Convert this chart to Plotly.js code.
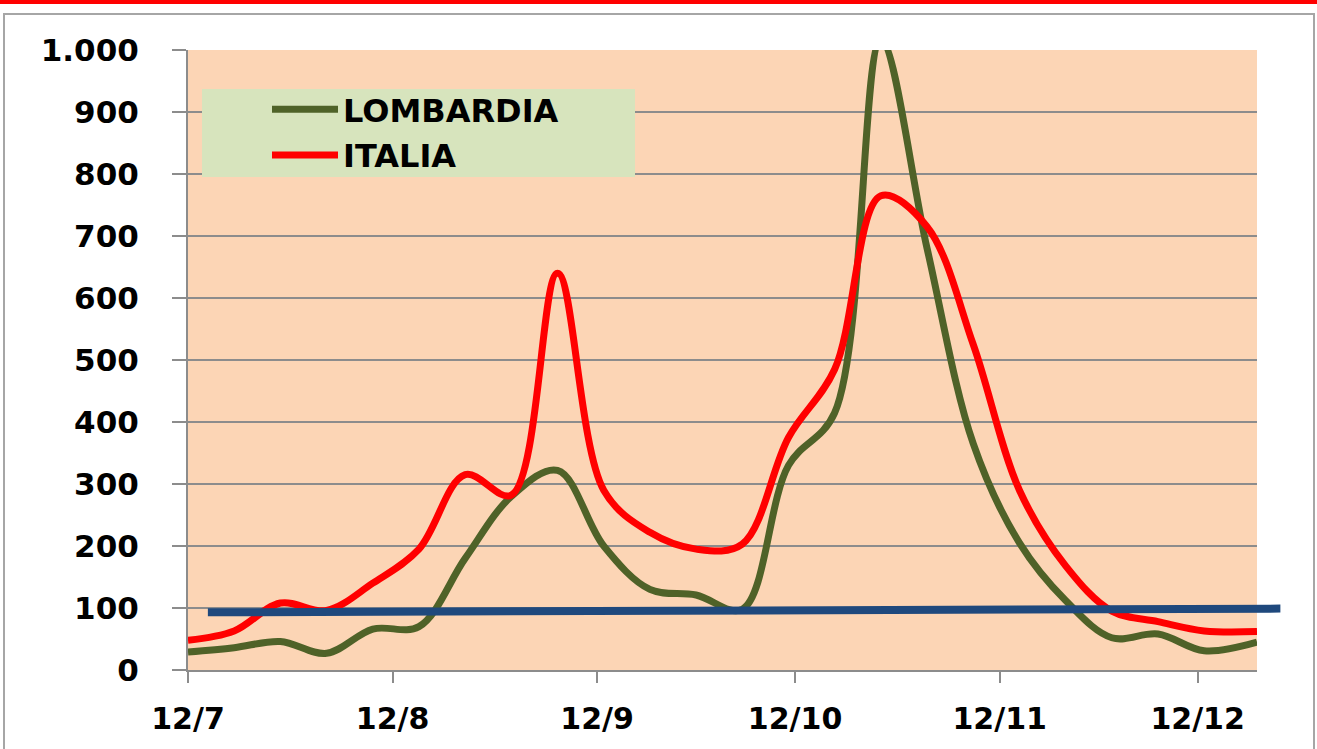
<!DOCTYPE html>
<html><head><meta charset="utf-8">
<script src="https://cdn.plot.ly/plotly-3.0.1.min.js"></script>
<style>
html,body{margin:0;padding:0;background:#fff;}
#wrap{position:relative;width:1317px;height:749px;overflow:hidden;}
#chart{position:absolute;left:0;top:0;width:1317px;height:749px;}
#redrule{position:absolute;left:0;top:0;width:1317px;height:4px;background:#ff0000;}
#frame{position:absolute;left:3px;top:13px;width:1308px;height:760px;border:2px solid #a6a6a6;pointer-events:none;}
</style></head>
<body><div id="wrap"><div id="chart"></div><div id="redrule"></div><div id="frame"></div></div>
<script>
// ---- data ----
const dates = ['2020-07-12','2020-07-19','2020-07-26','2020-08-02','2020-08-09','2020-08-16',
  '2020-08-23','2020-08-30','2020-09-06','2020-09-13','2020-09-20','2020-09-27',
  '2020-10-04','2020-10-11','2020-10-18','2020-10-25','2020-11-01','2020-11-08',
  '2020-11-15','2020-11-22','2020-11-29','2020-12-06','2020-12-13','2020-12-21'];
const lombardia = [29,36,46,27,66,70,180,280,322,200,130,121,98,330,415,1015,680,365,205,112,52,58,31,45];
const italia    = [48,63,108,96,140,195,315,282,640,290,222,195,203,375,485,765,715,525,290,168,95,78,63,62];
const seriesNames = ['LOMBARDIA','ITALIA'];
const thresholdDates = ['2020-07-15','2020-12-24'];
const thresholdValues = [93,99];
const yTickValues = [0,100,200,300,400,500,600,700,800,900,1000];
const xRange = ['2020-07-12','2020-12-21'];

// ---- styling / layout ----
const W = 1317, H = 749;
const L = 188, R = 30, T = 50, B = 79;
const plotRight = 1257;
const paperW = W - L - R, paperH = H - T - B;
const domEnd = (plotRight - L) / paperW;
const px2x = p => (p - L) / paperW;
const px2y = p => (H - B - p) / paperH;

const t0 = new Date(xRange[0] + 'T00:00:00Z').getTime();
const t1 = new Date(xRange[1] + 'T00:00:00Z').getTime();
const t2 = t0 + (t1 - t0) / domEnd;
const iso = t => new Date(t).toISOString().slice(0,10);

const FONT = 'DejaVu Sans, Verdana, sans-serif';
const GRID = '#8c8c8c';

const traces = [
  {x: dates, y: lombardia, name: seriesNames[0], type: 'scatter', mode: 'lines',
   line: {color: '#4f6228', width: 7, shape: 'spline', smoothing: 1}, legendgroup: 'a',
   xaxis: 'x', yaxis: 'y'},
  {x: dates, y: italia, name: seriesNames[1], type: 'scatter', mode: 'lines',
   line: {color: '#ff0000', width: 7, shape: 'spline', smoothing: 1}, legendgroup: 'b',
   xaxis: 'x', yaxis: 'y'},
  {x: thresholdDates, y: thresholdValues, type: 'scatter', mode: 'lines', showlegend: false,
   line: {color: '#1f497d', width: 8}, xaxis: 'x2', yaxis: 'y2', hoverinfo: 'skip'}
];

const layout = {
  width: W, height: H,
  margin: {l: L, r: R, t: T, b: B, pad: 0},
  paper_bgcolor: 'rgba(0,0,0,0)', plot_bgcolor: 'rgba(0,0,0,0)',
  separators: ',.',
  font: {family: FONT, size: 29, color: '#000', weight: 700},
  showlegend: true,
  xaxis: {type: 'date', domain: [0, domEnd], range: xRange, tick0: xRange[0], dtick: 'M1',
    tickformat: '%d/%-m', ticks: 'outside', ticklen: 11, tickwidth: 2, tickcolor: GRID,
    showline: true, linecolor: GRID, linewidth: 2, showgrid: false, zeroline: false,
    ticklabelstandoff: 10, tickfont: {family: FONT, size: 30, color: '#000', weight: 700},
    fixedrange: true},
  yaxis: {range: [0, 1000], tickvals: yTickValues, tickformat: ',d', ticks: 'outside',
    ticklen: 14, tickwidth: 2, tickcolor: GRID, showline: true, linecolor: GRID, linewidth: 2,
    showgrid: true, gridcolor: GRID, gridwidth: 2, zeroline: false, ticklabelstandoff: 27,
    tickfont: {family: FONT, size: 31, color: '#000', weight: 700}, fixedrange: true},
  xaxis2: {type: 'date', domain: [0, 1], range: [xRange[0], iso(t2)], anchor: 'y2', visible: false, fixedrange: true},
  yaxis2: {domain: [0, 1], range: [0, 1000], anchor: 'x2', visible: false, fixedrange: true},
  legend: {x: px2x(267), y: px2y(82), xanchor: 'left', yanchor: 'top', bgcolor: 'rgba(0,0,0,0)',
    borderwidth: 0, itemwidth: 66, tracegroupgap: 1,
    font: {family: FONT, size: 32, color: '#000', weight: 700}},
  shapes: [
    {type: 'rect', xref: 'x domain', yref: 'y domain', x0: 0, x1: 1, y0: 0, y1: 1,
     fillcolor: '#fcd5b5', line: {width: 0}, layer: 'below'},
    {type: 'rect', xref: 'paper', yref: 'paper', x0: px2x(202), x1: px2x(635), y0: px2y(177), y1: px2y(89),
     fillcolor: '#d7e4bd', line: {width: 0}, layer: 'above'}
  ]
};

Plotly.newPlot('chart', traces, layout, {displayModeBar: false, staticPlot: true});
</script>
</body></html>
